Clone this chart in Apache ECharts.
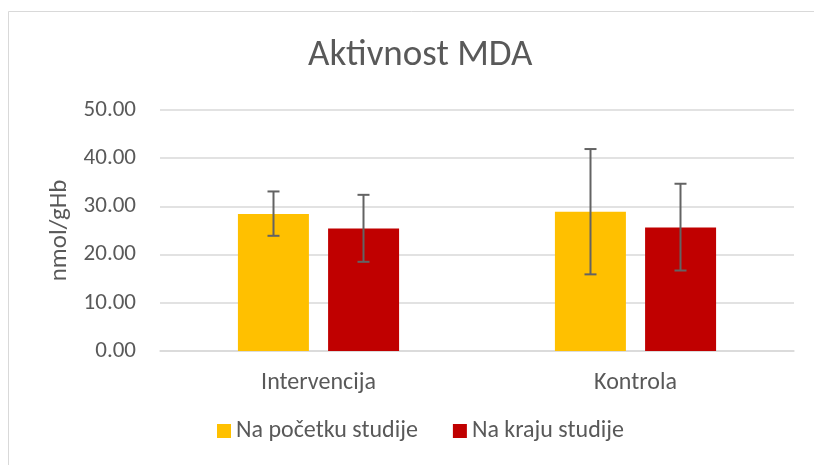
<!DOCTYPE html>
<html>
	<head>
		<title>Aktivnost MDA</title>
		<script src="https://cdn.jsdelivr.net/npm/echarts@6/dist/echarts.min.js"></script>
	</head>
	<body style="margin:0;padding:0;background:#fff">
		<div id="chart" style="width: 814px;height:465px;"></div>
	</body>
	<script type="text/javascript">
var categories = ['Intervencija', 'Kontrola'];
var seriesNames = ['Na početku studije', 'Na kraju studije'];
var startValues = [28.4, 28.9];
var endValues = [25.4, 25.6];
// error bar ranges [low, high]
var startErr = [[23.9, 33.1], [15.9, 41.9]];
var endErr = [[18.5, 32.4], [16.7, 34.7]];
var yTicks = [0, 10, 20, 30, 40, 50];

var myChart = echarts.init(document.getElementById('chart'));
var font = 'Calibri, Carlito, "Noto Sans", sans-serif';
var barW = 71;
var offset = 45;

function errorSeries(errs, shift) {
    return {
        type: 'custom',
        silent: true,
        z: 5,
        data: errs.map(function (e, i) { return [i, e[0], e[1]]; }),
        renderItem: function (params, api) {
            var lo = api.coord([api.value(0), api.value(1)]);
            var hi = api.coord([api.value(0), api.value(2)]);
            var x = lo[0] + shift;
            var st = { stroke: '#636363', lineWidth: 2 };
            return {
                type: 'group',
                children: [
                    { type: 'line', shape: { x1: x, y1: lo[1], x2: x, y2: hi[1] }, style: st },
                    { type: 'line', shape: { x1: x - 6, y1: lo[1], x2: x + 6, y2: lo[1] }, style: st },
                    { type: 'line', shape: { x1: x - 6, y1: hi[1], x2: x + 6, y2: hi[1] }, style: st }
                ]
            };
        }
    };
}

var option = {
    backgroundColor: '#fff',
    animation: false,
    graphic: [{
        type: 'rect',
        shape: { x: 8.5, y: 11.5, width: 900, height: 600 },
        style: { fill: 'none', stroke: '#d9d9d9', lineWidth: 1 }
    }],
    title: {
        text: 'Aktivnost MDA',
        left: 303,
        top: 32,
        textStyle: { color: '#595959', fontSize: 37, fontWeight: 'normal', fontFamily: font }
    },
    legend: {
        bottom: 17,
        left: 212,
        itemWidth: 14,
        itemHeight: 14,
        itemGap: 35,
        icon: 'rect',
        textStyle: { color: '#595959', fontSize: 24, fontFamily: font },
        data: seriesNames
    },
    grid: { left: 160, right: 20, top: 110, bottom: 114 },
    xAxis: {
        type: 'category',
        data: categories,
        axisTick: { show: false },
        axisLine: { lineStyle: { color: '#d9d9d9', width: 1.5 } },
        axisLabel: { color: '#595959', fontSize: 24, fontFamily: font, margin: 20 }
    },
    yAxis: {
        type: 'value',
        min: 0,
        max: 50,
        interval: 10,
        name: 'nmol/gHb',
        nameLocation: 'middle',
        nameGap: 81,
        nameTextStyle: { color: '#595959', fontSize: 25, fontFamily: font },
        axisLine: { show: false },
        axisTick: { show: false },
        splitLine: { lineStyle: { color: '#d9d9d9', width: 1.5 } },
        axisLabel: {
            color: '#595959', fontSize: 23, fontFamily: font, margin: 24,
            formatter: function (v) { return yTicks.indexOf(v) >= 0 ? v.toFixed(2) : ''; }
        }
    },
    series: [
        { name: seriesNames[0], type: 'bar', data: startValues, barWidth: barW, barGap: '27%', itemStyle: { color: '#ffc000' } },
        { name: seriesNames[1], type: 'bar', data: endValues, barWidth: barW, barGap: '27%', itemStyle: { color: '#c00000' } },
        errorSeries(startErr, -offset),
        errorSeries(endErr, offset)
    ]
};
myChart.setOption(option);
	</script>
</html>
